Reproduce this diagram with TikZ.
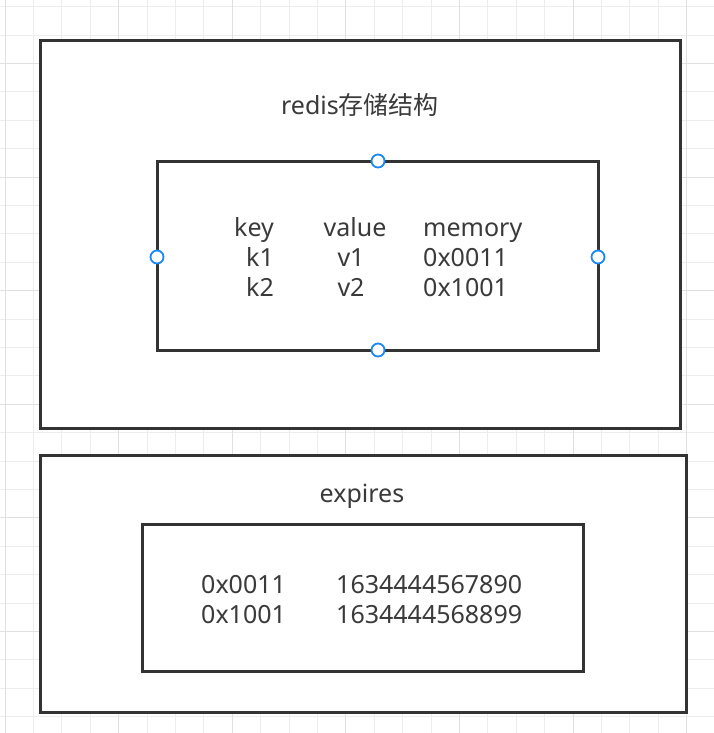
\documentclass[tikz,border=0pt]{standalone}
\usepackage{fontspec}
\setmainfont{Noto Sans}
\newfontfamily\cjk{Noto Sans CJK SC}
\definecolor{gridminor}{HTML}{EDEDED}
\definecolor{gridmajor}{HTML}{E0E0E0}
\definecolor{boxline}{HTML}{333333}
\definecolor{txt}{HTML}{3A3A3A}
\definecolor{handle}{HTML}{1A88F8}
\tikzset{
  box/.style={draw=boxline, line width=3pt, fill=white},
  lbl/.style={inner sep=0pt, text=txt, font=\fontsize{25}{30}\selectfont},
  hdl/.style={circle, draw=handle, line width=1.8pt, fill=white, minimum size=13pt, inner sep=0pt},
}
\begin{document}
\begin{tikzpicture}[x=1pt,y=-1pt]
\useasboundingbox (0,0) rectangle (714,733);
\fill[white] (0,0) rectangle (714,733);
% grid
\foreach \k in {0,...,25}{
  \pgfmathsetmacro{\gx}{5+28.4*\k}
  \pgfmathsetmacro{\gy}{6.7+28.4*\k}
  \draw[gridminor, line width=1pt] (\gx,0) -- (\gx,733);
  \draw[gridminor, line width=1pt] (0,\gy) -- (714,\gy);
}
\foreach \k in {0,4,...,24}{
  \pgfmathsetmacro{\gx}{5+28.4*\k}
  \draw[gridmajor, line width=1pt] (\gx,0) -- (\gx,733);
}
\foreach \k in {2,6,...,26}{
  \pgfmathsetmacro{\gy}{6.7+28.4*\k}
  \draw[gridmajor, line width=1pt] (0,\gy) -- (714,\gy);
}
% boxes
\draw[box] (40,41) rectangle (680,428);
\draw[box] (157,161) rectangle (598,350);
\draw[box] (40,455) rectangle (686,712);
\draw[box] (142,524) rectangle (583,671);
% titles
\node[lbl, anchor=base] (t1) at (360,114) {redis{\cjk 存储结构}};
\node[lbl, anchor=base] (t2) at (362,502) {expires};
% upper table
\node[lbl, anchor=base] (h1) at (254,236.5) {key};
\node[lbl, anchor=base] (h2) at (355,236.5) {value};
\node[lbl, anchor=base west] (h3) at (423,236.5) {memory};
\node[lbl, anchor=base] (a1) at (260,266.5) {k1};
\node[lbl, anchor=base] (a2) at (351,266.5) {v1};
\node[lbl, anchor=base west] (a3) at (423,266.5) {0x0011};
\node[lbl, anchor=base] (b1) at (260,296.5) {k2};
\node[lbl, anchor=base] (b2) at (351,296.5) {v2};
\node[lbl, anchor=base west] (b3) at (423,296.5) {0x1001};
% lower table
\node[lbl, anchor=base west] (e1) at (201,593) {0x0011};
\node[lbl, anchor=base west] (e2) at (336,593) {1634444567890};
\node[lbl, anchor=base west] (f1) at (201,623) {0x1001};
\node[lbl, anchor=base west] (f2) at (336,623) {1634444568899};
% handles
\node[hdl] (n) at (378,161) {};
\node[hdl] (w) at (157,257) {};
\node[hdl] (e) at (598,257) {};
\node[hdl] (s) at (378,350) {};
\end{tikzpicture}
\end{document}
